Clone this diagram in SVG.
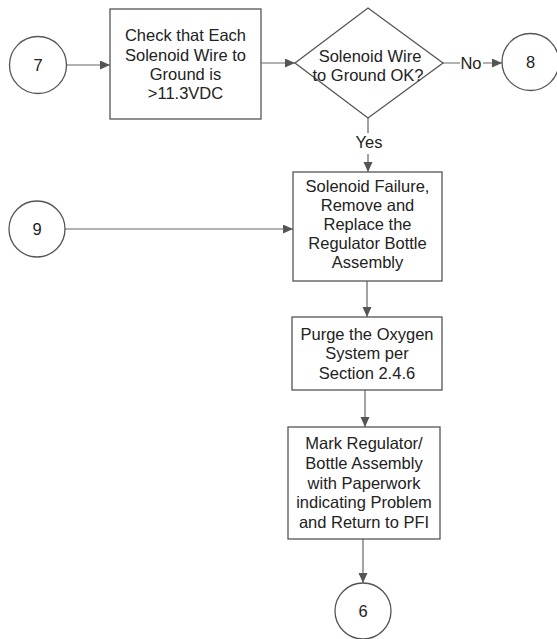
<svg xmlns="http://www.w3.org/2000/svg" width="557" height="639" viewBox="0 0 557 639">
  <style>
    .shape { fill: #ffffff; stroke: #555555; stroke-width: 1.3; }
    .wire { fill: none; stroke: #666666; stroke-width: 1.2; }
    .label { font-family: "Liberation Sans", Arial, sans-serif; font-size: 16.5px; fill: #222222; text-anchor: middle; }
  </style>
  <defs>
    <marker id="arrow" markerUnits="userSpaceOnUse" markerWidth="11" markerHeight="10" refX="10" refY="4.5" orient="auto">
      <path d="M0,0 L10,4.5 L0,9 Z" fill="#555555"/>
    </marker>
  </defs>
  <rect width="557" height="639" fill="#ffffff"/>

  <!-- connectors -->
  <g id="connectors">
    <line class="wire" x1="66.5" y1="65" x2="110" y2="65" marker-end="url(#arrow)"/>
    <line class="wire" x1="261" y1="63" x2="295" y2="63" marker-end="url(#arrow)"/>
    <path class="wire" d="M443,63 H460 M483,63 H502" marker-end="url(#arrow)"/>
    <path class="wire" d="M368,118 V133 M368,154 V172" marker-end="url(#arrow)"/>
    <line class="wire" x1="65" y1="229" x2="293" y2="229" marker-end="url(#arrow)"/>
    <line class="wire" x1="367" y1="281" x2="367" y2="317" marker-end="url(#arrow)"/>
    <line class="wire" x1="365" y1="390" x2="365" y2="427" marker-end="url(#arrow)"/>
    <line class="wire" x1="363" y1="539" x2="363" y2="583" marker-end="url(#arrow)"/>
    <text class="label" x="471" y="69">No</text>
    <text class="label" x="369" y="148">Yes</text>
  </g>

  <g id="conn-7">
    <circle class="shape" cx="38" cy="65" r="28.5"/>
    <text class="label" x="38" y="71">7</text>
  </g>

  <g id="check-voltage">
    <rect class="shape" x="110" y="9" width="151" height="110"/>
    <text class="label" x="185.5" y="41">Check that Each</text>
    <text class="label" x="185.5" y="61">Solenoid Wire to</text>
    <text class="label" x="185.5" y="80">Ground is</text>
    <text class="label" x="185.5" y="99">&gt;11.3VDC</text>
  </g>

  <g id="ground-ok">
    <polygon class="shape" points="295,63 368,8 443,63 368,118"/>
    <text class="label" x="370" y="62">Solenoid Wire</text>
    <text class="label" x="368" y="81">to Ground OK?</text>
  </g>

  <g id="conn-8">
    <circle class="shape" cx="530.5" cy="62" r="28.5"/>
    <text class="label" x="530.5" y="68">8</text>
  </g>

  <g id="conn-9">
    <circle class="shape" cx="37" cy="229" r="28"/>
    <text class="label" x="37" y="235">9</text>
  </g>

  <g id="replace-assembly">
    <rect class="shape" x="293" y="172" width="149" height="109"/>
    <text class="label" x="367.5" y="192">Solenoid Failure,</text>
    <text class="label" x="367.5" y="211">Remove and</text>
    <text class="label" x="367.5" y="230">Replace the</text>
    <text class="label" x="367.5" y="249">Regulator Bottle</text>
    <text class="label" x="367.5" y="268">Assembly</text>
  </g>

  <g id="purge-system">
    <rect class="shape" x="292" y="317" width="150" height="73"/>
    <text class="label" x="367" y="340">Purge the Oxygen</text>
    <text class="label" x="367" y="359">System per</text>
    <text class="label" x="367" y="379">Section 2.4.6</text>
  </g>

  <g id="mark-return">
    <rect class="shape" x="288" y="427" width="152" height="112"/>
    <text class="label" x="364" y="449">Mark Regulator/</text>
    <text class="label" x="364" y="469">Bottle Assembly</text>
    <text class="label" x="364" y="489">with Paperwork</text>
    <text class="label" x="364" y="508">indicating Problem</text>
    <text class="label" x="364" y="528">and Return to PFI</text>
  </g>

  <g id="conn-6">
    <circle class="shape" cx="363" cy="611" r="28"/>
    <text class="label" x="363" y="617">6</text>
  </g>
</svg>
